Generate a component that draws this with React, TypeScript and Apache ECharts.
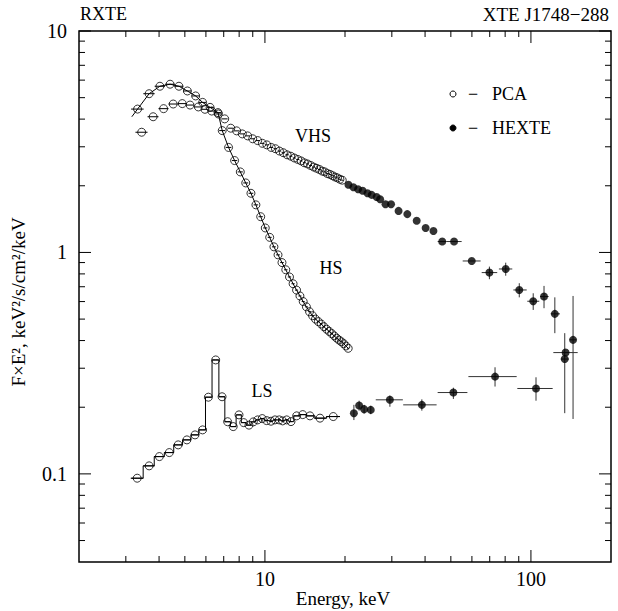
import React, { useEffect, useRef } from "react";
import * as echarts from "echarts";

const FONT = '"Liberation Serif", "DejaVu Serif", serif';

// Axis ticks and labels
const xMajorTicks = [10, 100];
const xTickLabels = ["10", "100"];
const xMinorTicks = [3, 4, 5, 6, 7, 8, 9, 20, 30, 40, 50, 60, 70, 80, 90];
const yMajorTicks = [0.1, 1, 10];
const yTickLabels = ["0.1", "1", "10"];
const yMinorTicks = [0.05, 0.06, 0.07, 0.08, 0.09, 0.2, 0.3, 0.4, 0.5, 0.6, 0.7, 0.8, 0.9, 2, 3, 4, 5, 6, 7, 8, 9];

// PCA bin half width (keV)
const pcaHalfBin = 0.18;

// HS – PCA
const hsE = [3.32, 3.67, 4.03, 4.40, 4.75, 5.11, 5.49, 5.83, 6.22, 6.66, 6.91, 7.30, 7.69, 8.08, 8.47, 8.86, 9.25, 9.64, 10.03, 10.42, 10.81, 11.20, 11.59, 11.98, 12.37, 12.76, 13.15, 13.54, 13.93, 14.32, 14.71, 15.10, 15.49, 15.88, 16.27, 16.66, 17.05, 17.44, 17.83, 18.22, 18.61, 19.00, 19.39, 19.78, 20.17, 20.56];
const hsF = [4.44, 5.21, 5.63, 5.75, 5.63, 5.36, 5.09, 4.76, 4.52, 4.28, 3.55, 2.98, 2.60, 2.31, 2.06, 1.85, 1.64, 1.45, 1.29, 1.17, 1.06, 0.975, 0.900, 0.835, 0.775, 0.722, 0.676, 0.636, 0.600, 0.568, 0.540, 0.518, 0.500, 0.487, 0.475, 0.462, 0.450, 0.440, 0.430, 0.420, 0.410, 0.402, 0.395, 0.387, 0.378, 0.369];
const hsModelStart = [3.16, 4.10];

// VHS – PCA
const vhsE = [3.44, 3.80, 4.16, 4.52, 4.89, 5.23, 5.62, 5.95, 6.31, 6.68, 7.06, 7.44, 7.83, 8.22, 8.61, 9.00, 9.39, 9.78, 10.17, 10.56, 10.95, 11.34, 11.73, 12.12, 12.51, 12.90, 13.29, 13.68, 14.07, 14.46, 14.85, 15.24, 15.63, 16.02, 16.41, 16.80, 17.19, 17.58, 17.97, 18.36, 18.75, 19.14, 19.53];
const vhsF = [3.49, 4.10, 4.46, 4.68, 4.70, 4.63, 4.54, 4.43, 4.35, 4.22, 4.01, 3.64, 3.54, 3.43, 3.36, 3.26, 3.20, 3.11, 3.06, 2.98, 2.94, 2.87, 2.82, 2.76, 2.72, 2.67, 2.63, 2.59, 2.54, 2.51, 2.47, 2.43, 2.40, 2.37, 2.33, 2.31, 2.27, 2.25, 2.22, 2.19, 2.17, 2.14, 2.12];

// LS – PCA
const lsE = [3.31, 3.67, 4.01, 4.37, 4.72, 5.09, 5.46, 5.83, 6.13, 6.53, 6.90, 7.24, 7.60, 7.99, 8.32, 8.71, 9.04, 9.39, 9.77, 10.15, 10.54, 10.91, 11.32, 11.66, 12.07, 12.53, 13.16, 13.87, 14.77, 16.11, 18.07];
const lsF = [0.0956, 0.1087, 0.1197, 0.1248, 0.1352, 0.1424, 0.150, 0.158, 0.222, 0.327, 0.223, 0.172, 0.1635, 0.1847, 0.1704, 0.166, 0.1717, 0.1753, 0.1777, 0.174, 0.1729, 0.1753, 0.1753, 0.1735, 0.1753, 0.1722, 0.1828, 0.1852, 0.1828, 0.1785, 0.1815];
const lsBinLo = [null, null, null, null, null, null, null, null, null, null, null, null, null, null, null, null, null, null, null, null, null, null, null, null, null, null, 12.8, 13.5, 14.3, 15.3, 17.0];
const lsBinHi = [null, null, null, null, null, null, null, null, null, null, null, null, null, null, null, null, null, null, null, null, null, null, null, null, null, null, 13.5, 14.3, 15.3, 17.0, 19.15];
const lsModelStart = [3.15, 0.0956];
const lsModelEnd = [19.15, 0.1815];

// VHS – HEXTE
const vhsHxE = [20.6, 21.5, 22.4, 23.3, 24.3, 25.2, 26.3, 27.1, 28.4, 29.8, 31.8, 34.3, 37.2, 40.2, 43.0, 46.4, 51.4, 59.9, 69.8, 80.4, 90.4, 102, 112, 123, 134, 144];
const vhsHxF = [2.02, 1.97, 1.93, 1.90, 1.85, 1.82, 1.78, 1.74, 1.65, 1.65, 1.54, 1.49, 1.39, 1.29, 1.25, 1.12, 1.12, 0.915, 0.811, 0.842, 0.677, 0.602, 0.632, 0.528, 0.330, 0.403];
const vhsHxElo = [null, null, null, null, null, null, null, null, null, null, null, null, null, null, null, 44.6, 48.2, 55.4, 65.3, 75.8, 85.9, 96.9, 108.2, 118.7, 129.5, 140];
const vhsHxEhi = [null, null, null, null, null, null, null, null, null, null, null, null, null, null, null, 48.2, 54.9, 64.7, 74.7, 85.1, 96.4, 107.5, 116.6, 128.6, 139, 148];
const vhsHxFlo = [null, null, null, null, null, null, null, null, null, null, null, null, null, null, null, null, null, null, 0.757, 0.785, 0.627, 0.55, 0.56, 0.432, 0.188, 0.177];
const vhsHxFhi = [null, null, null, null, null, null, null, null, null, null, null, null, null, null, null, null, null, null, 0.863, 0.899, 0.726, 0.654, 0.706, 0.627, 0.432, 0.636];

// LS – HEXTE
const lsHxE = [21.6, 22.6, 23.6, 25.0, 29.5, 38.9, 51.1, 73.3, 104.5, 135];
const lsHxF = [0.188, 0.2035, 0.196, 0.1945, 0.216, 0.205, 0.233, 0.275, 0.243, 0.353];
const lsHxElo = [null, null, null, null, 26.1, 33.1, 44.6, 58.2, 88.9, 121.4];
const lsHxEhi = [null, null, null, null, 33.0, 44.2, 57.7, 88.4, 120.7, 149.9];
const lsHxFlo = [0.175, 0.193, 0.187, 0.186, 0.201, 0.193, 0.218, 0.248, 0.214, null];
const lsHxFhi = [0.205, 0.214, 0.205, 0.203, 0.226, 0.217, 0.245, 0.303, 0.273, null];

type N = number | null;

function pts(E: number[], F: number[]) {
  return E.map((e, i) => [e, F[i]]);
}

function errRows(E: number[], F: number[], elo: N[] | null, ehi: N[] | null, flo: N[] | null, fhi: N[] | null, half: number | null) {
  return E.map((e, i) => {
    const lo = elo && elo[i] != null ? (elo[i] as number) : half != null ? e - half : e;
    const hi = ehi && ehi[i] != null ? (ehi[i] as number) : half != null ? e + half : e;
    const fl = flo && flo[i] != null ? (flo[i] as number) : F[i];
    const fh = fhi && fhi[i] != null ? (fhi[i] as number) : F[i];
    return [e, F[i], lo, hi, fl, fh];
  });
}

function errSeries(data: number[][], color: string) {
  return {
    type: "custom",
    coordinateSystem: "cartesian2d",
    silent: true,
    z: 3,
    data,
    renderItem: (params: any, api: any) => {
      const f = api.value(1);
      const e = api.value(0);
      const elo = api.value(2), ehi = api.value(3), flo = api.value(4), fhi = api.value(5);
      const children: any[] = [];
      if (ehi > elo) {
        const a = api.coord([elo, f]);
        const b = api.coord([ehi, f]);
        children.push({ type: "line", shape: { x1: a[0], y1: a[1], x2: b[0], y2: b[1] }, style: { stroke: color, lineWidth: 1 } });
      }
      if (fhi > flo) {
        const a = api.coord([e, flo]);
        const b = api.coord([e, fhi]);
        children.push({ type: "line", shape: { x1: a[0], y1: a[1], x2: b[0], y2: b[1] }, style: { stroke: color, lineWidth: 1 } });
      }
      return { type: "group", children };
    },
  };
}

function xTickSeries(vals: number[], len: number) {
  return {
    type: "custom",
    coordinateSystem: "cartesian2d",
    silent: true,
    z: 5,
    data: vals.map((v) => [v, 1]),
    renderItem: (params: any, api: any) => {
      const cs = params.coordSys;
      const px = api.coord([api.value(0), 1])[0];
      const yb = cs.y + cs.height;
      return {
        type: "group",
        children: [
          { type: "line", shape: { x1: px, y1: yb, x2: px, y2: yb - len }, style: { stroke: "#000", lineWidth: 1 } },
          { type: "line", shape: { x1: px, y1: cs.y, x2: px, y2: cs.y + len }, style: { stroke: "#000", lineWidth: 1 } },
        ],
      };
    },
  };
}

function yTickSeries(vals: number[], len: number) {
  return {
    type: "custom",
    coordinateSystem: "cartesian2d",
    silent: true,
    z: 5,
    data: vals.map((v) => [10, v]),
    renderItem: (params: any, api: any) => {
      const cs = params.coordSys;
      const py = api.coord([10, api.value(1)])[1];
      const xr = cs.x + cs.width;
      return {
        type: "group",
        children: [
          { type: "line", shape: { x1: cs.x, y1: py, x2: cs.x + len, y2: py }, style: { stroke: "#000", lineWidth: 1 } },
          { type: "line", shape: { x1: xr, y1: py, x2: xr - len, y2: py }, style: { stroke: "#000", lineWidth: 1 } },
        ],
      };
    },
  };
}

function labelFor(v: number, ticks: number[], labels: string[]) {
  const i = ticks.findIndex((t) => Math.abs(Math.log10(v) - Math.log10(t)) < 1e-6);
  return i >= 0 ? labels[i] : "";
}

const openCircle = {
  type: "scatter",
  symbol: "circle",
  symbolSize: 8,
  itemStyle: { color: "rgba(0,0,0,0)", borderColor: "#000", borderWidth: 1 },
  z: 4,
  silent: true,
};

const filledDot = {
  type: "scatter",
  symbol: "circle",
  symbolSize: 8,
  itemStyle: { color: "#000" },
  z: 4,
  silent: true,
};

export default function App() {
  const ref = useRef<HTMLDivElement>(null);
  useEffect(() => {
    if (!ref.current) return;
    const chart = echarts.init(ref.current, null, { renderer: "svg" });
    const txt = (text: string, x: number, y: number, align = "left", size = 18, extra: any = {}) => ({
      type: "text",
      x,
      y,
      style: { text, fill: "#000", font: `${size}px ${FONT}`, textAlign: align, textVerticalAlign: "middle" },
      ...extra,
    });
    chart.setOption({
      animation: false,
      backgroundColor: "#fff",
      grid: { left: 79, right: 7, top: 31, bottom: 49, show: true, borderColor: "#000", borderWidth: 1.5, backgroundColor: "transparent" },
      xAxis: {
        type: "log",
        logBase: 10,
        min: 2,
        max: 200,
        axisLine: { show: false },
        axisTick: { show: false },
        splitLine: { show: false },
        minorTick: { show: false },
        axisLabel: {
          color: "#000",
          fontFamily: FONT,
          fontSize: 20,
          margin: 7,
          formatter: (v: number) => labelFor(v, xMajorTicks, xTickLabels),
        },
      },
      yAxis: {
        type: "log",
        logBase: 10,
        min: 0.04,
        max: 10,
        axisLine: { show: false },
        axisTick: { show: false },
        splitLine: { show: false },
        minorTick: { show: false },
        axisLabel: {
          color: "#000",
          fontFamily: FONT,
          fontSize: 20,
          margin: 12,
          formatter: (v: number) => labelFor(v, yMajorTicks, yTickLabels),
        },
      },
      graphic: [
        txt("RXTE", 80, 14),
        txt("XTE J1748\u2212288", 609, 14, "right", 19),
        txt("Energy, keV", 343, 598, "center", 19),
        txt("F\u00d7E\u00b2, keV\u00b2/s/cm\u00b2/keV", 18, 302, "center", 19, { rotation: Math.PI / 2 }),
        txt("VHS", 313, 136, "center"),
        txt("HS", 331, 268, "center"),
        txt("LS", 262, 391, "center"),
        { type: "circle", shape: { cx: 453, cy: 94, r: 3 }, style: { fill: "none", stroke: "#000", lineWidth: 1 } },
        txt("\u2212", 473, 94, "center"),
        txt("PCA", 492, 94),
        { type: "circle", shape: { cx: 453, cy: 128, r: 3 }, style: { fill: "#000", stroke: "#000", lineWidth: 1 } },
        txt("\u2212", 473, 128, "center"),
        txt("HEXTE", 492, 128),
      ],
      series: [
        xTickSeries(xMajorTicks, 12),
        xTickSeries(xMinorTicks, 6),
        yTickSeries(yMajorTicks, 12),
        yTickSeries(yMinorTicks, 6),
        {
          type: "line",
          data: [hsModelStart, ...pts(hsE, hsF)],
          showSymbol: false,
          lineStyle: { color: "#000", width: 1 },
          z: 2,
          silent: true,
        },
        {
          type: "line",
          step: "middle",
          data: [lsModelStart, ...pts(lsE, lsF), lsModelEnd],
          showSymbol: false,
          lineStyle: { color: "#000", width: 1 },
          z: 2,
          silent: true,
        },
        errSeries(errRows(hsE, hsF, null, null, null, null, pcaHalfBin), "#000"),
        errSeries(errRows(vhsE, vhsF, null, null, null, null, pcaHalfBin), "#000"),
        errSeries(errRows(lsE, lsF, lsBinLo, lsBinHi, null, null, pcaHalfBin), "#000"),
        errSeries(errRows(vhsHxE, vhsHxF, vhsHxElo, vhsHxEhi, vhsHxFlo, vhsHxFhi, null), "#333"),
        errSeries(errRows(lsHxE, lsHxF, lsHxElo, lsHxEhi, lsHxFlo, lsHxFhi, null), "#333"),
        { ...openCircle, data: pts(hsE, hsF) },
        { ...openCircle, data: pts(vhsE, vhsF) },
        { ...openCircle, data: pts(lsE, lsF) },
        { ...filledDot, data: pts(vhsHxE, vhsHxF) },
        { ...filledDot, data: pts(lsHxE, lsHxF) },
      ],
    });
    return () => chart.dispose();
  }, []);
  return <div ref={ref} style={{ position: "absolute", left: 0, top: 0, width: 618, height: 611 }} />;
}
